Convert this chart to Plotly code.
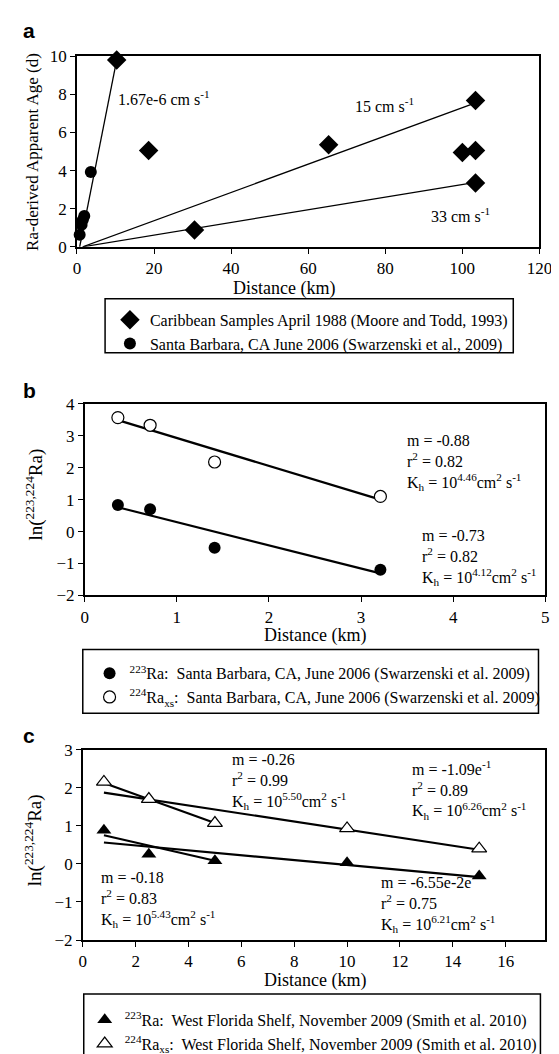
import plotly.graph_objects as go

W, H = 559, 1054

# ---- panel a data
carib_x = [10.3, 18.6, 30.5, 65.3, 100.0, 103.4, 103.4, 103.4]
carib_y = [9.8, 5.05, 0.88, 5.36, 4.95, 5.05, 7.68, 3.35]
sb_x = [0.7, 1.2, 1.5, 1.9, 3.6]
sb_y = [0.63, 1.15, 1.4, 1.61, 3.92]
fit_steep_x = [0.7, 10.3]
fit_steep_y = [0.0, 9.8]
fit_15_x = [1.5, 103.4]
fit_15_y = [0.0, 7.55]
fit_33_x = [1.5, 103.4]
fit_33_y = [0.0, 3.38]

# ---- panel b data
sb_dist = [0.36, 0.71, 1.41, 3.21]
sb_ra223 = [0.83, 0.70, -0.51, -1.20]
sb_ra224 = [3.57, 3.33, 2.18, 1.10]
b_fit_x = [0.36, 3.21]
b_fit223_y = [0.76, -1.31]
b_fit224_y = [3.49, 1.00]

# ---- panel c data
wfs_dist = [0.8, 2.5, 5.0, 10.0, 15.0]
wfs_ra223 = [0.88, 0.25, 0.08, 0.03, -0.32]
wfs_ra224 = [2.15, 1.70, 1.07, 0.93, 0.40]
c_short_x = [0.8, 5.0]
c_long_x = [0.8, 15.0]
c_fit223_short = [0.75, 0.08]
c_fit223_long = [0.56, -0.35]
c_fit224_short = [2.12, 1.07]
c_fit224_long = [1.87, 0.37]

SERIF = "Liberation Serif, Times New Roman, serif"


def px_x(p):
    return p / W


def px_y(p):
    return 1 - p / H


fig = go.Figure()

# panel a
fig.add_trace(go.Scatter(x=carib_x, y=carib_y, mode="markers", xaxis="x", yaxis="y",
                         name="Caribbean Samples April 1988 (Moore and Todd, 1993)",
                         marker=dict(symbol="diamond", size=15, color="black"),
                         cliponaxis=False, legend="legend"))
fig.add_trace(go.Scatter(x=sb_x, y=sb_y, mode="markers", xaxis="x", yaxis="y",
                         name="Santa Barbara, CA June 2006 (Swarzenski et al., 2009)",
                         marker=dict(symbol="circle", size=12, color="black"),
                         cliponaxis=False, legend="legend"))
for lx, ly in [(fit_steep_x, fit_steep_y), (fit_15_x, fit_15_y), (fit_33_x, fit_33_y)]:
    fig.add_trace(go.Scatter(x=lx, y=ly, mode="lines", xaxis="x", yaxis="y",
                             line=dict(color="black", width=1.3), showlegend=False))

# panel b
for ly in [b_fit224_y, b_fit223_y]:
    fig.add_trace(go.Scatter(x=b_fit_x, y=ly, mode="lines", xaxis="x2", yaxis="y2",
                             line=dict(color="black", width=2.2), showlegend=False))
fig.add_trace(go.Scatter(x=sb_dist, y=sb_ra223, mode="markers", xaxis="x2", yaxis="y2",
                         name="<sup>223</sup>Ra:\u00a0 Santa Barbara, CA, June 2006 (Swarzenski et al. 2009)",
                         marker=dict(symbol="circle", size=12, color="black"),
                         cliponaxis=False, legend="legend2"))
fig.add_trace(go.Scatter(x=sb_dist, y=sb_ra224, mode="markers", xaxis="x2", yaxis="y2",
                         name="<sup>224</sup>Ra<sub>xs</sub>:\u00a0 Santa Barbara, CA, June 2006 (Swarzenski et al. 2009)",
                         marker=dict(symbol="circle", size=12, color="white",
                                     line=dict(color="black", width=1.2)),
                         cliponaxis=False, legend="legend2"))

# panel c
for lx, ly in [(c_short_x, c_fit224_short), (c_long_x, c_fit224_long),
               (c_short_x, c_fit223_short), (c_long_x, c_fit223_long)]:
    fig.add_trace(go.Scatter(x=lx, y=ly, mode="lines", xaxis="x3", yaxis="y3",
                             line=dict(color="black", width=2.2), showlegend=False))
fig.add_trace(go.Scatter(x=wfs_dist, y=wfs_ra223, mode="markers", xaxis="x3", yaxis="y3",
                         name="<sup>223</sup>Ra:\u00a0 West Florida Shelf, November 2009 (Smith et al. 2010)",
                         marker=dict(symbol="triangle-up", size=13, color="black"),
                         cliponaxis=False, legend="legend3"))
fig.add_trace(go.Scatter(x=wfs_dist, y=wfs_ra224, mode="markers", xaxis="x3", yaxis="y3",
                         name="<sup>224</sup>Ra<sub>xs</sub>:\u00a0 West Florida Shelf, November 2009 (Smith et al. 2010)",
                         marker=dict(symbol="triangle-up", size=13, color="white",
                                     line=dict(color="black", width=1.2)),
                         cliponaxis=False, legend="legend3"))

axis_common = dict(showline=True, mirror=True, linecolor="black", linewidth=1.5,
                   ticks="outside", ticklen=5, tickwidth=1.2, tickcolor="black",
                   showgrid=False, zeroline=False,
                   tickfont=dict(family=SERIF, size=17, color="black"))

legend_common = dict(xanchor="left", yanchor="top", bgcolor="rgba(0,0,0,0)",
                     font=dict(family=SERIF, size=16, color="black"), tracegroupgap=0)

fig.update_layout(
    width=W, height=H, margin=dict(l=0, r=0, t=0, b=0),
    paper_bgcolor="white", plot_bgcolor="white",
    font=dict(family=SERIF, size=16, color="black"),
    xaxis=dict(domain=[px_x(67), px_x(544)], range=[0, 120], dtick=20, anchor="y", **axis_common),
    yaxis=dict(domain=[px_y(234), px_y(40)], range=[0, 10], dtick=2, anchor="x", **axis_common),
    xaxis2=dict(domain=[px_x(75), px_x(550)], range=[0, 5], dtick=1, anchor="y2", **axis_common),
    yaxis2=dict(domain=[px_y(589), px_y(394)], range=[-2, 4], dtick=1, anchor="x2", **axis_common),
    xaxis3=dict(domain=[px_x(73), px_x(550)], range=[0, 17.5], tickvals=list(range(0, 17, 2)),
                anchor="y3", **axis_common),
    yaxis3=dict(domain=[px_y(940), px_y(746)], range=[-2, 3], dtick=1, anchor="x3", **axis_common),
    legend=dict(x=px_x(101), y=px_y(291), **legend_common),
    legend2=dict(x=px_x(80), y=px_y(651), **legend_common),
    legend3=dict(x=px_x(75), y=px_y(1004), **legend_common),
    showlegend=True,
)

# legend frames
for x0, y0, x1, y1 in [(96, 287, 517, 342), (73, 644, 543, 709), (74, 995, 545, 1070)]:
    fig.add_shape(type="rect", xref="paper", yref="paper",
                  x0=px_x(x0), x1=px_x(x1), y0=px_y(y1), y1=px_y(y0),
                  line=dict(color="black", width=1.5), fillcolor="rgba(0,0,0,0)")


def note(text, x, y, size=16, xanchor="left", yanchor="middle", angle=0, family=SERIF, bold=False):
    if bold:
        text = "<b>" + text + "</b>"
    fig.add_annotation(text=text, x=px_x(x), y=px_y(y), xref="paper", yref="paper",
                       xanchor=xanchor, yanchor=yanchor, showarrow=False, align="left",
                       textangle=angle, font=dict(family=family, size=size, color="black"))


# panel letters
note("a", 9, 14, size=21, family="Liberation Sans, Arial, sans-serif", bold=True)
note("b", 9, 380, size=21, family="Liberation Sans, Arial, sans-serif", bold=True)
note("c", 9, 732, size=21, family="Liberation Sans, Arial, sans-serif", bold=True)

# axis titles
note("Distance (km)", 281, 276, size=18, xanchor="center")
note("Distance (km)", 312, 630, size=18, xanchor="center")
note("Distance (km)", 312, 981, size=18, xanchor="center")
note("Ra-derived Apparent Age (d)", 21, 137, size=17, xanchor="center", angle=-90)
note("ln(<sup>223,224</sup>Ra)", 23, 486, size=19, xanchor="center", angle=-90)
note("ln(<sup>223,224</sup>Ra)", 23, 838, size=19, xanchor="center", angle=-90)

# panel a labels
note("1.67e-6 cm s<sup>-1</sup>", 107, 82)
note("15 cm s<sup>-1</sup>", 352, 90)
note("33 cm s<sup>-1</sup>", 430, 202)

# regression notes
kh = "K<sub>h</sub> = 10<sup>{}</sup>cm<sup>2</sup> s<sup>-1</sup>"
note("m = -0.88<br>r<sup>2</sup> = 0.82<br>" + kh.format("4.46"), 405, 421, yanchor="top")
note("m = -0.73<br>r<sup>2</sup> = 0.82<br>" + kh.format("4.12"), 421, 517, yanchor="top")
note("m = -0.26<br>r<sup>2</sup> = 0.99<br>" + kh.format("5.50"), 225, 745, yanchor="top")
note("m = -1.09e<sup>-1</sup><br>r<sup>2</sup> = 0.89<br>" + kh.format("6.26"), 410, 753, yanchor="top")
note("m = -0.18<br>r<sup>2</sup> = 0.83<br>" + kh.format("5.43"), 90, 866, yanchor="top")
note("m = -6.55e-2e<br>r<sup>2</sup> = 0.75<br>" + kh.format("6.21"), 379, 871, yanchor="top")

fig.write_html("out.html")
